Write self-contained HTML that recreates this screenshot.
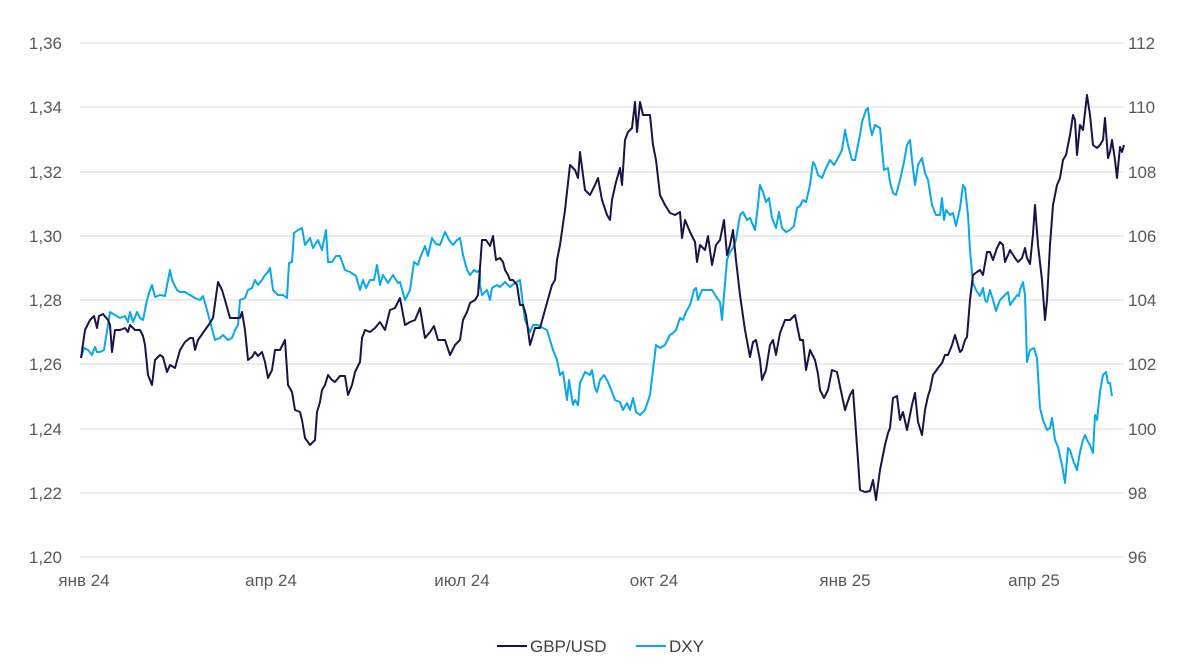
<!DOCTYPE html>
<html><head><meta charset="utf-8"><style>
html,body{margin:0;padding:0;background:#fff;}
svg{display:block;font-family:"Liberation Sans",sans-serif;}
</style></head><body>
<svg width="1200" height="672" viewBox="0 0 1200 672">
<g stroke="#d9d9d9" stroke-width="1">
<line x1="80" y1="43" x2="1124" y2="43"/>
<line x1="80" y1="107" x2="1124" y2="107"/>
<line x1="80" y1="172" x2="1124" y2="172"/>
<line x1="80" y1="236" x2="1124" y2="236"/>
<line x1="80" y1="300" x2="1124" y2="300"/>
<line x1="80" y1="364" x2="1124" y2="364"/>
<line x1="80" y1="429" x2="1124" y2="429"/>
<line x1="80" y1="493" x2="1124" y2="493"/>
<line x1="80" y1="557" x2="1124" y2="557"/>
</g>
<g fill="#595959" font-size="17" text-anchor="end">
<text x="62" y="49">1,36</text><text x="62" y="113">1,34</text><text x="62" y="178">1,32</text>
<text x="62" y="242">1,30</text><text x="62" y="306">1,28</text><text x="62" y="370">1,26</text>
<text x="62" y="435">1,24</text><text x="62" y="499">1,22</text><text x="62" y="563">1,20</text>
</g>
<g fill="#595959" font-size="17" text-anchor="start">
<text x="1128" y="49">112</text><text x="1128" y="113">110</text><text x="1128" y="178">108</text>
<text x="1128" y="242">106</text><text x="1128" y="306">104</text><text x="1128" y="370">102</text>
<text x="1128" y="435">100</text><text x="1128" y="499">98</text><text x="1128" y="563">96</text>
</g>
<g fill="#595959" font-size="17" text-anchor="middle">
<text x="84" y="586">янв 24</text><text x="271" y="586">апр 24</text><text x="462" y="586">июл 24</text>
<text x="654" y="586">окт 24</text><text x="845" y="586">янв 25</text><text x="1034" y="586">апр 25</text>
</g>
<polyline fill="none" stroke="#0aa8e8" stroke-width="2" stroke-linejoin="round" points="81,358 84,348 88,350 92,355 95,347 97,352 100,352 104,350 110,312 115,315 120,318 125,316 128,322 130,312 133,322 137,312 140,318 143,320 145,310 147,300 150,290 152,285 155,297 160,295 165,296 170,270 172,280 177,290 180,292 185,292 190,295 195,298 200,300 203,296 207,310 215,340 220,338 223,335 228,340 232,338 235,330 238,325 240,300 245,298 248,290 252,288 255,280 258,285 262,280 265,275 268,272 270,268 273,290 278,295 283,295 287,298 289,263 292,262 294,233 298,230 302,228 305,245 310,238 313,248 318,240 322,250 326,230 328,262 332,262 336,256 340,256 345,270 350,272 356,276 360,290 363,280 366,288 370,280 374,280 377,265 380,285 383,275 388,283 393,275 398,283 400,282 405,300 410,290 414,262 418,265 420,258 425,246 428,256 432,238 436,244 440,245 445,232 449,240 453,245 457,240 460,238 463,255 467,270 470,275 474,270 477,272 480,270 480,285 482,295 487,290 490,300 492,288 497,285 500,287 505,282 510,287 515,283 520,280 523,305 525,320 530,332 533,325 538,325 543,328 547,330 550,340 553,350 557,360 560,375 563,372 567,400 569,380 573,405 575,400 578,405 580,383 585,372 590,375 592,370 595,388 597,392 600,380 604,375 608,382 612,392 615,400 620,402 623,410 627,403 630,410 633,398 636,412 640,415 645,410 650,395 653,370 656,345 660,348 665,345 670,335 673,333 676,330 680,318 683,320 686,312 690,305 694,290 696,288 698,300 702,290 707,290 712,290 717,298 720,302 722,320 724,295 727,260 730,252 733,248 736,240 740,215 743,212 747,220 750,218 755,230 758,205 760,185 763,192 766,202 769,198 772,218 776,228 779,212 782,228 786,232 790,230 794,226 797,208 800,206 803,200 806,202 810,185 813,162 815,165 818,175 822,178 826,168 830,160 834,165 838,158 842,150 845,130 848,145 852,160 855,160 858,145 860,135 862,122 866,110 868,108 870,126 872,135 875,125 880,128 884,170 888,168 890,182 893,193 896,195 900,180 904,162 907,145 910,140 912,160 915,185 918,165 922,158 925,173 928,180 932,205 936,215 940,215 942,198 944,220 946,210 950,215 953,213 956,226 960,208 963,185 965,188 968,215 970,250 973,283 976,290 980,296 983,288 985,300 987,302 990,290 993,300 996,311 1000,300 1005,295 1008,292 1010,305 1015,298 1017,295 1019,296 1020,290 1023,282 1025,295 1027,362 1030,350 1034,348 1037,358 1040,408 1043,420 1047,430 1050,428 1052,418 1055,440 1058,447 1062,465 1065,483 1068,448 1070,450 1073,460 1077,470 1080,452 1083,440 1085,435 1087,440 1090,445 1093,453 1095,415 1097,420 1100,392 1103,375 1106,372 1108,383 1110,383 1112,396"/>
<polyline fill="none" stroke="#1a1446" stroke-width="2" stroke-linejoin="round" points="81,358 85,330 90,320 94,316 97,328 99,316 103,314 108,320 110,325 112,352 115,330 120,330 125,328 128,332 130,325 135,330 140,330 143,336 145,345 148,375 152,385 155,360 160,355 163,357 167,372 170,365 175,368 180,350 185,342 190,338 193,338 195,350 198,340 205,330 210,323 213,318 218,282 222,290 225,300 230,318 235,318 240,318 242,312 245,330 248,360 252,357 255,352 258,356 262,352 265,362 268,378 272,370 275,350 280,350 285,340 288,385 292,392 295,410 300,412 302,420 305,438 310,445 315,440 317,412 320,402 322,390 325,385 328,375 332,380 335,382 340,376 345,376 348,395 352,385 355,372 360,362 362,338 365,330 370,332 375,328 380,322 385,330 390,310 395,308 400,298 405,325 410,322 415,320 420,308 425,338 430,332 434,326 438,340 445,340 450,355 455,345 460,340 463,320 467,312 470,303 475,300 478,295 482,240 486,240 490,246 493,236 496,260 500,258 503,262 505,270 508,275 510,280 513,280 517,285 520,305 523,305 526,315 530,345 533,335 535,328 540,328 545,310 550,292 552,285 555,280 557,260 560,245 565,210 570,165 575,170 578,178 580,152 583,175 585,190 590,195 595,185 598,178 602,200 607,215 610,220 612,200 616,182 620,168 622,185 625,140 628,132 632,128 635,102 637,132 640,102 643,115 650,115 653,145 656,160 660,195 665,205 670,213 675,215 680,212 682,238 685,220 690,232 695,242 697,262 700,245 705,250 708,236 712,265 716,245 720,240 724,220 727,255 730,245 733,230 736,260 740,295 745,330 750,357 753,342 756,340 760,360 762,380 766,370 770,345 773,340 776,355 780,333 785,320 790,320 795,315 800,340 803,340 806,370 810,350 815,360 818,374 820,390 824,398 828,390 832,370 837,372 845,410 850,395 853,390 858,460 860,490 865,492 870,491 873,480 876,500 880,470 885,445 888,433 890,428 893,398 897,396 900,420 903,412 907,430 912,405 915,393 918,422 922,435 925,410 928,396 930,390 933,375 938,368 942,363 945,355 948,355 952,345 955,335 960,352 962,350 965,340 967,337 970,300 973,275 977,272 980,270 983,275 987,252 990,252 993,260 997,248 1000,242 1003,245 1005,262 1008,255 1010,250 1015,258 1018,262 1022,258 1025,248 1027,258 1030,264 1033,234 1035,205 1038,245 1042,280 1045,320 1047,300 1050,245 1053,205 1057,185 1060,178 1063,160 1066,155 1070,135 1073,115 1075,120 1077,155 1080,125 1083,130 1087,95 1090,115 1093,145 1097,148 1100,145 1103,140 1105,118 1108,158 1110,152 1112,140 1115,160 1117,178 1120,147 1122,152 1124,145"/>
<line x1="497" y1="646" x2="527" y2="646" stroke="#1a1446" stroke-width="2"/>
<text x="530" y="652" font-size="17" fill="#404040">GBP/USD</text>
<line x1="636" y1="646" x2="666" y2="646" stroke="#0aa8e8" stroke-width="2"/>
<text x="669" y="652" font-size="17" fill="#404040">DXY</text>
</svg>
</body></html>
